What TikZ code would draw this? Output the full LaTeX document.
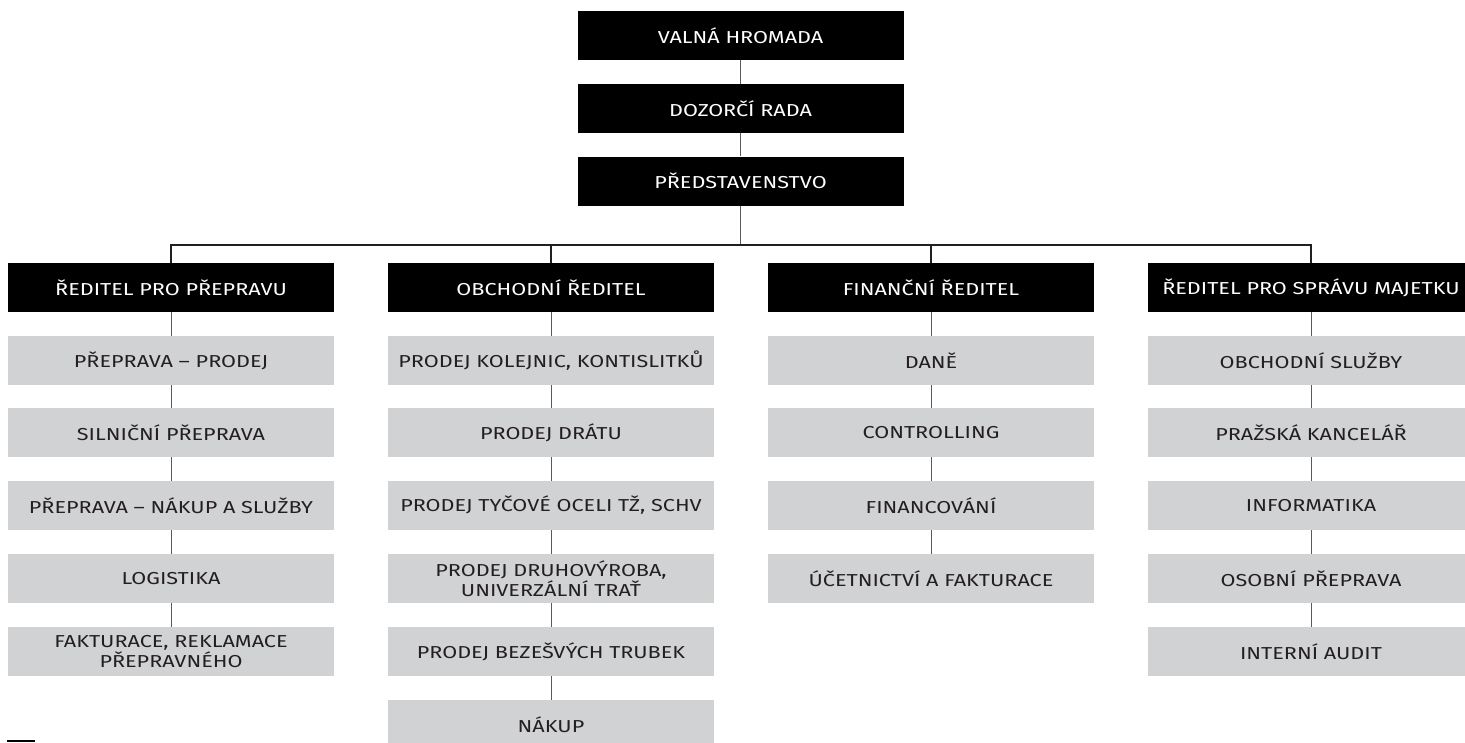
\documentclass[tikz,border=0pt]{standalone}
\usepackage{fontspec}
\setmainfont{Fira Sans}[FakeStretch=1.25]
\definecolor{boxgray}{HTML}{D1D2D4}
\definecolor{txtdark}{HTML}{231F20}
\definecolor{linegray}{HTML}{5A5A5A}
\begin{document}
\begin{tikzpicture}[x=1pt,y=-1pt,
  blackbox/.style={fill=black,text=white,minimum width=326pt,minimum height=49pt,inner sep=0pt,align=center,font=\fontsize{17.3}{18}\selectfont},
  graybox/.style={fill=boxgray,text=txtdark,minimum width=326pt,minimum height=49pt,inner sep=0pt,align=center,font=\fontsize{17.3}{18}\selectfont},
  conn/.style={draw=linegray,line width=1pt},
  hconn/.style={draw=txtdark,line width=1.1pt}]
\useasboundingbox (0,0) rectangle (1465,742);
\begin{scope}
\clip (0,0) rectangle (1465,742);
% top
\node[blackbox] (vh) at (740.5,35.5) {VALNÁ HROMADA};
\node[blackbox] (dr) at (740.5,108.5) {DOZORČÍ RADA};
\node[blackbox] (pr) at (740.5,181) {PŘEDSTAVENSTVO};
\coordinate (hub) at (740.5,245);
% column 1
\node[blackbox] (a0) at (171,287.5) {ŘEDITEL PRO PŘEPRAVU};
\node[graybox] (a1) at (171,360.5) {PŘEPRAVA – PRODEJ};
\node[graybox] (a2) at (171,432.5) {SILNIČNÍ PŘEPRAVA};
\node[graybox] (a3) at (171,505.5) {PŘEPRAVA – NÁKUP A SLUŽBY};
\node[graybox] (a4) at (171,578.5) {LOGISTIKA};
\node[graybox] (a5) at (171,651.5) {FAKTURACE, REKLAMACE\\PŘEPRAVNÉHO};
% column 2
\node[blackbox] (b0) at (551,287.5) {OBCHODNÍ ŘEDITEL};
\node[graybox] (b1) at (551,360.5) {PRODEJ KOLEJNIC, KONTISLITKŮ};
\node[graybox] (b2) at (551,432.5) {PRODEJ DRÁTU};
\node[graybox] (b3) at (551,505.5) {PRODEJ TYČOVÉ OCELI TŽ, SCHV};
\node[graybox] (b4) at (551,578.5) {PRODEJ DRUHOVÝROBA,\\UNIVERZÁLNÍ TRAŤ};
\node[graybox] (b5) at (551,651.5) {PRODEJ BEZEŠVÝCH TRUBEK};
\node[graybox] (b6) at (551,724.5) {NÁKUP};
% column 3
\node[blackbox] (c0) at (931,287.5) {FINANČNÍ ŘEDITEL};
\node[graybox] (c1) at (931,360.5) {DANĚ};
\node[graybox] (c2) at (931,432.5) {CONTROLLING};
\node[graybox] (c3) at (931,505.5) {FINANCOVÁNÍ};
\node[graybox] (c4) at (931,578.5) {ÚČETNICTVÍ A FAKTURACE};
% column 4
\node[blackbox] (d0) at (1311,287.5) {ŘEDITEL PRO SPRÁVU MAJETKU};
\node[graybox] (d1) at (1311,360.5) {OBCHODNÍ SLUŽBY};
\node[graybox] (d2) at (1311,432.5) {PRAŽSKÁ KANCELÁŘ};
\node[graybox] (d3) at (1311,505.5) {INFORMATIKA};
\node[graybox] (d4) at (1311,578.5) {OSOBNÍ PŘEPRAVA};
\node[graybox] (d5) at (1311,651.5) {INTERNÍ AUDIT};
\end{scope}
% connectors
\draw[conn] (vh.south) -- (dr.north);
\draw[conn] (dr.south) -- (pr.north);
\draw[conn] (pr.south) -- (hub);
\draw[hconn] (a0.north) |- (hub) -| (d0.north);
\draw[hconn] (b0.north) -- (b0.north |- hub);
\draw[hconn] (c0.north) -- (c0.north |- hub);
\foreach \p/\q in {a0/a1,a1/a2,a2/a3,a3/a4,a4/a5,b0/b1,b1/b2,b2/b3,b3/b4,b4/b5,b5/b6,c0/c1,c1/c2,c2/c3,c3/c4,d0/d1,d1/d2,d2/d3,d3/d4,d4/d5}
  \draw[conn] (\p.south) -- (\q.north);
% bottom-left mark
\coordinate (m1) at (7,740.5);
\coordinate (m2) at (35,740.5);
\draw[draw=black,line width=2pt] (m1) -- (m2);
\end{tikzpicture}
\end{document}
